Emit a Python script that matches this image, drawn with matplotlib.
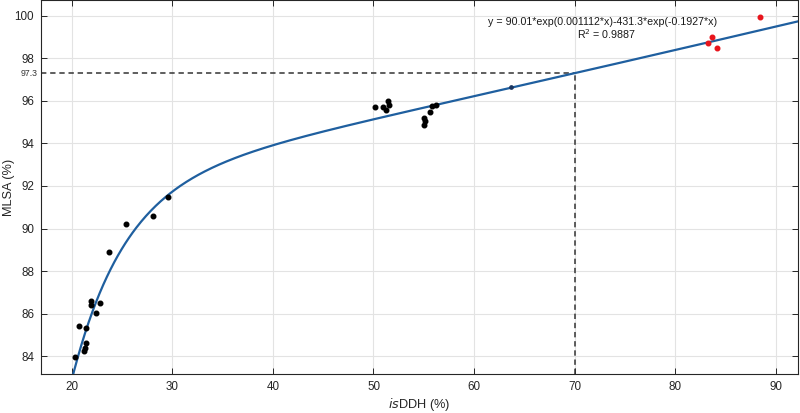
import numpy as np
import matplotlib
matplotlib.use("Agg")
import matplotlib.pyplot as plt

plt.rcParams['font.family'] = ['Liberation Sans', 'DejaVu Sans']

# Data
black_x = [20.36, 20.76, 21.45, 21.45, 21.35, 21.25, 21.94, 21.94, 22.83, 22.44,
           23.72, 25.43, 28.12, 29.58,
           50.18, 50.97, 51.26, 51.46, 51.56,
           55.05, 55.14, 55.05, 55.64, 55.83, 56.23]
black_y = [83.97, 85.42, 85.33, 84.61, 84.38, 84.25, 86.61, 86.41, 86.52, 86.02,
           88.91, 90.20, 90.60, 91.50,
           95.70, 95.70, 95.55, 96.00, 95.79,
           95.18, 95.04, 94.85, 95.46, 95.74, 95.79]
small_x = [63.66]
small_y = [96.65]
red_x = [83.25, 83.64, 84.13, 88.38]
red_y = [98.73, 98.98, 98.50, 99.92]

# Fit parameters: y = a*exp(b*x) + c*exp(d*x)
fit_a, fit_b, fit_c, fit_d = 90.01, 0.001112, -431.3, -0.1927
x_mark = 70
y_mark = 97.3

x_ticks = [20, 30, 40, 50, 60, 70, 80, 90]
y_ticks = [84, 86, 88, 90, 92, 94, 96, 98, 100]

fig = plt.figure(figsize=(8, 4.13), dpi=100)
ax = fig.add_axes([0.0513, 0.0944, 0.9462, 0.905])

xlim = (16.95, 92.2)
ylim = (83.17, 100.72)

xc = np.linspace(19.5, xlim[1], 600)
yc = fit_a * np.exp(fit_b * xc) + fit_c * np.exp(fit_d * xc)

ax.grid(True, color='#e3e3e3', linewidth=0.8, zorder=0)
ax.set_axisbelow(True)

ax.plot([xlim[0], x_mark], [y_mark, y_mark], linestyle=(0, (3.5, 2.5)), color='#333333', linewidth=1.1, zorder=2)
ax.plot([x_mark, x_mark], [ylim[0], y_mark], linestyle=(0, (3.5, 2.5)), color='#333333', linewidth=1.1, zorder=2)

ax.plot(xc, yc, color='#1f5f9f', linewidth=1.6, zorder=3)

ax.plot(black_x, black_y, 'o', color='black', markersize=3.3, zorder=4)
ax.plot(small_x, small_y, 'o', color='#1a3560', markersize=2.4, zorder=4)
ax.plot(red_x, red_y, 'o', color='#e8141c', markersize=3.3, zorder=4)

ax.text(72.8, 99.72, 'y = 90.01*exp(0.001112*x)-431.3*exp(-0.1927*x)', ha='center', va='center',
        fontsize=7.7, color='#1a1a1a')
ax.text(73.2, 99.12, 'R$^2$ = 0.9887', ha='center', va='center', fontsize=7.7, color='#1a1a1a')

ax.text(-0.004, (y_mark - ylim[0]) / (ylim[1] - ylim[0]), '97.3', transform=ax.transAxes,
        ha='right', va='center', fontsize=6.3, color='#333333')

ax.set_xlim(*xlim)
ax.set_ylim(*ylim)
ax.set_xticks(x_ticks)
ax.set_yticks(y_ticks)
ax.tick_params(direction='in', length=4, width=0.7, top=True, right=True,
               labelsize=8.4, colors='#262626', pad=5)
for s in ax.spines.values():
    s.set_color('#262626')
    s.set_linewidth(0.8)

ax.set_xlabel(r'$\mathit{is}$DDH (%)', fontsize=9.2, color='#262626', labelpad=2)
ax.set_ylabel('MLSA (%)', fontsize=9.2, color='#262626')
ax.yaxis.set_label_coords(-0.035, 0.5)

fig.savefig('out.png', dpi=100)
